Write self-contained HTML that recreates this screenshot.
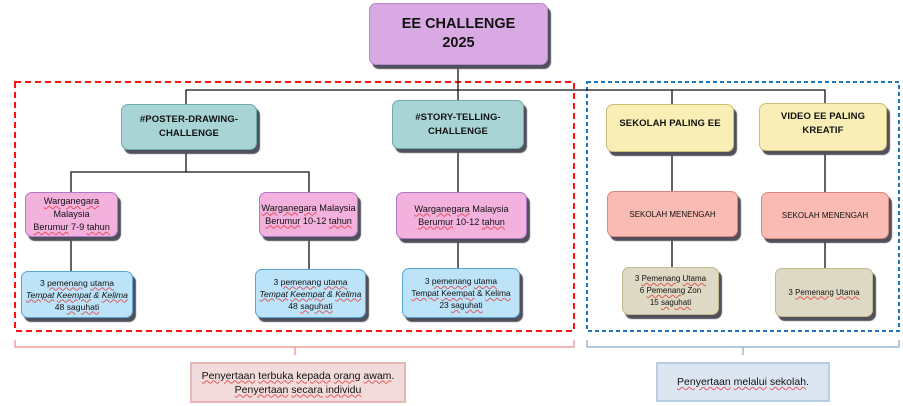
<!DOCTYPE html>
<html><head><meta charset="utf-8">
<style>
html,body{margin:0;padding:0;background:#fff;}
#c{position:relative;width:903px;height:406px;overflow:hidden;font-family:"Liberation Sans",sans-serif;color:#111;}
svg{position:absolute;left:0;top:0;}
.b{position:absolute;box-sizing:border-box;border-radius:7px;border:1.5px solid;box-shadow:3px 4px 1px #50505c;display:flex;align-items:center;justify-content:center;text-align:center;flex-direction:column;}
.h{font-weight:bold;font-size:9.5px;line-height:14px;letter-spacing:0.1px;}
.p{font-size:9.2px;line-height:13px;}
.q{font-size:8.4px;line-height:12px;}
.w{text-decoration:underline wavy rgba(225,50,50,0.75);text-decoration-thickness:0.5px;text-underline-offset:1px;}
.note{position:absolute;box-sizing:border-box;border:2px solid;display:flex;align-items:center;justify-content:center;text-align:center;flex-direction:column;font-size:10.5px;line-height:14px;}
</style></head><body>
<div id="c">
<svg width="903" height="406" viewBox="0 0 903 406">
  <rect x="15" y="82" width="559" height="249" fill="none" stroke="#ff1010" stroke-width="2" stroke-dasharray="6 4"/>
  <rect x="587" y="82" width="312" height="249" fill="none" stroke="#1f74c4" stroke-width="2" stroke-dasharray="4 3"/>
  <g stroke="#111" stroke-width="1.3" fill="none">
    <line x1="458" y1="65" x2="458" y2="100"/>
    <polyline points="186,104 186,90 825,90 825,103"/>
    <line x1="672" y1="90" x2="672" y2="104"/>
    <polyline points="186,150 186,172"/>
    <polyline points="71,192 71,172 309,172 309,192"/>
    <line x1="71" y1="237" x2="71" y2="271"/>
    <line x1="309" y1="237" x2="309" y2="269"/>
    <line x1="458" y1="149" x2="458" y2="268"/>
    <line x1="672" y1="152" x2="672" y2="267"/>
    <line x1="825" y1="151" x2="825" y2="268"/>
  </g>
  <polyline points="15,340 15,347 574,347 574,340" fill="none" stroke="#f08a8a" stroke-width="1.2"/>
  <line x1="295" y1="347" x2="295" y2="355" stroke="#f08a8a" stroke-width="1.2"/>
  <polyline points="587,340 587,347 899,347 899,340" fill="none" stroke="#8aa6c6" stroke-width="1.2"/>
  <line x1="743" y1="347" x2="743" y2="355" stroke="#8aa6c6" stroke-width="1.2"/>
</svg>

<div class="b" style="left:369px;top:3px;width:179px;height:62px;background:#d9a9e4;border-color:#b98bc9;font-weight:bold;font-size:14.5px;line-height:19px;">
  <div>EE CHALLENGE</div><div>2025</div>
</div>

<div class="b h" style="left:121px;top:104px;width:136px;height:46px;background:#a9d4d6;border-color:#6eaaae;">
  <div>#POSTER-DRAWING-</div><div>CHALLENGE</div>
</div>
<div class="b h" style="left:392px;top:100px;width:132px;height:49px;background:#a9d4d6;border-color:#6eaaae;">
  <div>#STORY-TELLING-</div><div>CHALLENGE</div>
</div>
<div class="b h" style="left:606px;top:104px;width:128px;height:48px;background:#f8eeb6;border-color:#cdbf78;justify-content:flex-start;padding-top:12px;">
  <div>SEKOLAH PALING EE</div>
</div>
<div class="b h" style="left:759px;top:103px;width:128px;height:48px;background:#f8eeb6;border-color:#cdbf78;padding-bottom:6px;">
  <div>VIDEO EE PALING</div><div>KREATIF</div>
</div>

<div class="b p" style="left:25px;top:192px;width:93px;height:45px;background:#f3b1de;border-color:#ad78c4;">
  <div><span class="w">Warganegara</span></div><div>Malaysia</div><div><span class="w">Berumur</span> 7-9 <span class="w">tahun</span></div>
</div>
<div class="b p" style="left:259px;top:192px;width:99px;height:45px;background:#f3b1de;border-color:#ad78c4;">
  <div><span class="w">Warganegara</span> Malaysia</div><div><span class="w">Berumur</span> 10-12 <span class="w">tahun</span></div>
</div>
<div class="b p" style="left:396px;top:192px;width:131px;height:47px;background:#f3b1de;border-color:#ad78c4;">
  <div><span class="w">Warganegara</span> Malaysia</div><div><span class="w">Berumur</span> 10-12 <span class="w">tahun</span></div>
</div>
<div class="b" style="left:607px;top:191px;width:131px;height:46px;background:#f9bbb3;border-color:#d98a80;font-size:8px;">
  <div>SEKOLAH MENENGAH</div>
</div>
<div class="b" style="left:761px;top:192px;width:128px;height:47px;background:#f9bbb3;border-color:#d98a80;font-size:8px;">
  <div>SEKOLAH MENENGAH</div>
</div>

<div class="b q" style="left:21px;top:271px;width:112px;height:47px;background:#bde3f8;border-color:#55a5d8;font-size:8.6px;">
  <div>3 <span class="w">pemenang</span> <span class="w">utama</span></div><div style="font-style:italic;"><span class="w">Tempat</span> <span class="w">Keempat</span> &amp; <span class="w">Kelima</span></div><div>48 <span class="w">saguhati</span></div>
</div>
<div class="b q" style="left:255px;top:269px;width:111px;height:49px;background:#bde3f8;border-color:#55a5d8;font-size:8.6px;">
  <div>3 <span class="w">pemenang</span> <span class="w">utama</span></div><div style="font-style:italic;"><span class="w">Tempat</span> <span class="w">Keempat</span> &amp; <span class="w">Kelima</span></div><div>48 <span class="w">saguhati</span></div>
</div>
<div class="b q" style="left:402px;top:268px;width:118px;height:50px;background:#bde3f8;border-color:#55a5d8;">
  <div>3 <span class="w">pemenang</span> <span class="w">utama</span></div><div><span class="w">Tempat</span> <span class="w">Keempat</span> &amp; <span class="w">Kelima</span></div><div>23 <span class="w">saguhati</span></div>
</div>
<div class="b q" style="left:622px;top:267px;width:97px;height:48px;background:#ddd9c4;border-color:#c2b98e;font-size:8px;">
  <div>3 <span class="w">Pemenang</span> <span class="w">Utama</span></div><div>6 <span class="w">Pemenang</span> Zon</div><div>15 <span class="w">saguhati</span></div>
</div>
<div class="b q" style="left:775px;top:268px;width:98px;height:49px;background:#ddd9c4;border-color:#c2b98e;font-size:8px;">
  <div>3 <span class="w">Pemenang</span> <span class="w">Utama</span></div>
</div>

<div class="note" style="left:190px;top:362px;width:216px;height:41px;background:#f2dcdb;border-color:#e6b9b8;">
  <div><span class="w">Penyertaan</span> <span class="w">terbuka</span> <span class="w">kepada</span> <span class="w">orang</span> <span class="w">awam</span>.</div>
  <div><span class="w">Penyertaan</span> <span class="w">secara</span> <span class="w">individu</span></div>
</div>
<div class="note" style="left:656px;top:362px;width:174px;height:40px;background:#dce6f2;border-color:#b9cde5;">
  <div><span class="w">Penyertaan</span> <span class="w">melalui</span> <span class="w">sekolah</span>.</div>
</div>
</div>
</body></html>
